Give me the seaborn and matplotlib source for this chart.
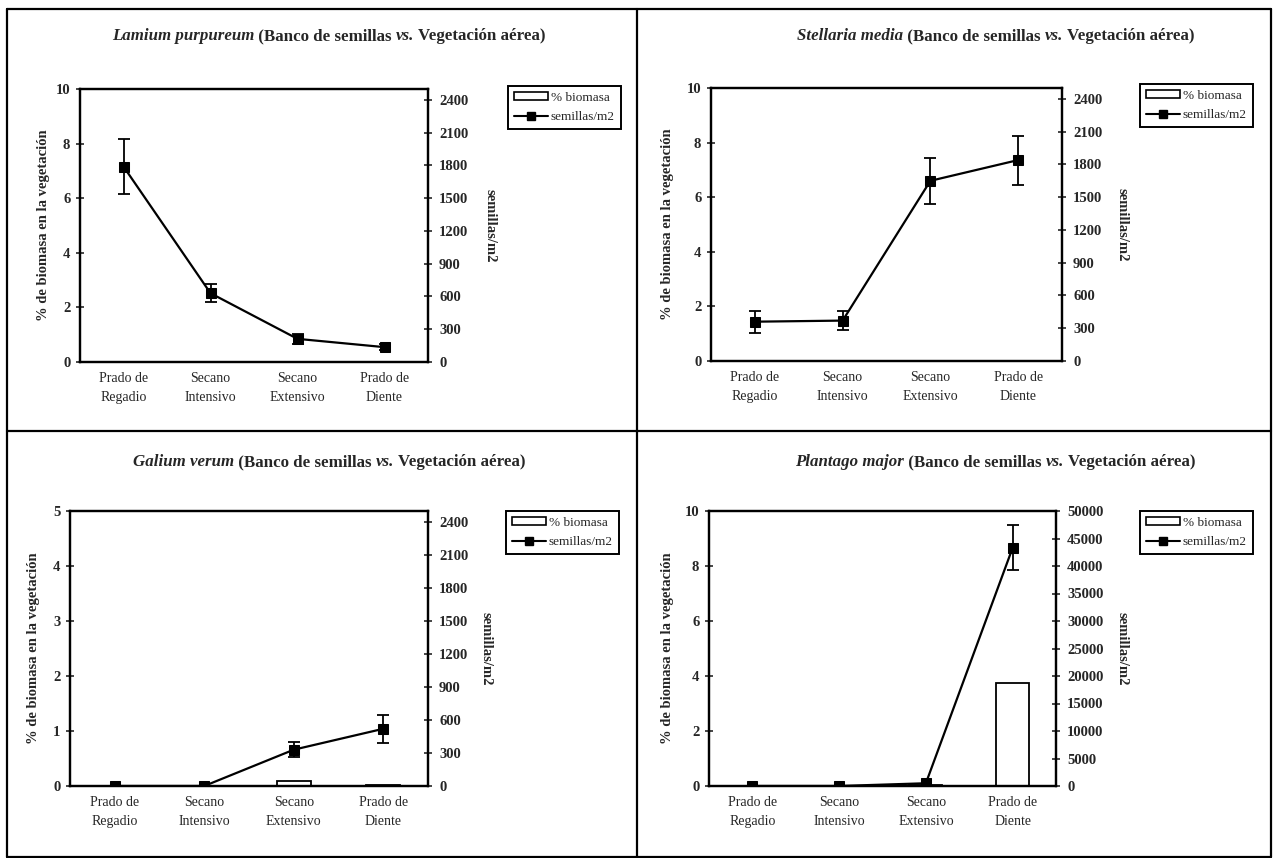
import numpy as np
import pandas as pd
import matplotlib.pyplot as plt
import seaborn as sns
from matplotlib.lines import Line2D
from matplotlib.patches import Patch

# categorias del eje x (4 tipos de manejo)
categorias = ['Prado de\nRegadio', 'Secano\nIntensivo', 'Secano\nExtensivo', 'Prado de\nDiente']

# Lamium purpureum
lamium_biomasa  = [0, 0, 0, 0]
lamium_semillas = [1790, 630, 212, 136]
lamium_error    = [250, 85, 45, 30]

# Stellaria media
stellaria_biomasa  = [0, 0, 0, 0]
stellaria_semillas = [360, 370, 1650, 1840]
stellaria_error    = [100, 85, 210, 225]

# Galium verum
galium_biomasa  = [0, 0, 0.1, 0.02]
galium_semillas = [0, 0, 330, 520]
galium_error    = [0, 0, 70, 130]

# Plantago major
plantago_biomasa  = [0, 0, 0.05, 3.75]
plantago_semillas = [0, 0, 500, 43300]
plantago_error    = [0, 0, 0, 4100]

W, H = 1274, 858
FONT = ['Liberation Serif', 'DejaVu Serif']

sns.set_style('white')
plt.rcParams['font.family'] = FONT

fig = plt.figure(figsize=(W / 100, H / 100), dpi=100)


def px_rect(l, t, r, b):
    return [l / W, 1 - b / H, (r - l) / W, (b - t) / H]


def put_title(ax, x, y, species):
    pieces = [(' (Banco de semillas ', 'normal'), ('vs.', 'italic'),
              (' Vegetación aérea)', 'normal')]
    t = fig.text(x / W, 1 - y / H, species, style='italic', weight='bold',
                 fontsize=12.2, va='bottom', ha='left')
    for text, st in pieces:
        t = ax.annotate(text, xy=(1, 0), xycoords=t, va='bottom', ha='left',
                        style=st, weight='bold', fontsize=12.2, annotation_clip=False)


def draw_panel(box, species, biomasa, semillas, error, left_max, left_step,
               right_max, right_step, right_ticks_top, leg_xy, title_xy,
               ylab_x, y2lab_x):
    ax = fig.add_axes(px_rect(*box))
    df = pd.DataFrame({'cat': categorias, 'pos': np.arange(len(categorias)),
                       'bio': biomasa, 'sem': semillas, 'err': error})

    sns.barplot(data=df, x='cat', y='bio', ax=ax, color='white', edgecolor='black',
                linewidth=1.3, width=0.38, errorbar=None, saturation=1)
    ax.set_xlim(-0.5, 3.5)
    ax.set_ylim(0, left_max)
    lt = np.arange(0, left_max + 0.01, left_step)
    ax.set_yticks(lt)
    ax.set_yticklabels([f'{v:g}' for v in lt], fontsize=10.5, fontweight='bold')
    ax.set_xticks(df['pos'])
    ax.set_xticklabels(categorias, fontsize=10, linespacing=1.65)
    ax.set_xticks(np.arange(-0.5, 3.6, 1), minor=True)
    ax.tick_params(axis='x', which='major', length=0, pad=7)
    ax.tick_params(axis='x', which='minor', direction='inout', length=7, width=1.2)
    ax.tick_params(axis='y', direction='inout', length=6, width=1.2, pad=4, left=True)
    ax.set_xlabel('')
    ax.set_ylabel('% de biomasa en la vegetación', fontsize=10.5, fontweight='bold',
                  rotation=90, ha='center', va='center', rotation_mode='default')
    ax.yaxis.set_label_coords(ylab_x, 0.5)

    ax2 = ax.twinx()
    sns.lineplot(data=df, x='pos', y='sem', ax=ax2, color='black', linewidth=1.6,
                 marker='s', markersize=7, markeredgecolor='black', legend=False)
    with_err = df[df['err'] > 0]
    ax2.errorbar(with_err['pos'], with_err['sem'], yerr=with_err['err'], fmt='none',
                 ecolor='black', elinewidth=1.3, capsize=4, capthick=1.3)
    ax2.set_xlim(-0.5, 3.5)
    ax2.set_ylim(0, right_max)
    rt = np.arange(0, right_ticks_top + 1, right_step)
    ax2.set_yticks(rt)
    ax2.set_yticklabels([f'{int(v)}' for v in rt], fontsize=10.5, fontweight='bold')
    ax2.tick_params(axis='y', direction='inout', length=6, width=1.2, pad=5, right=True)
    ax2.set_xlabel('')
    ax2.set_ylabel('semillas/m2', fontsize=10.5, fontweight='bold', rotation=270,
                   ha='center', va='center', rotation_mode='default')
    ax2.yaxis.set_label_coords(y2lab_x, 0.5)

    for a in (ax, ax2):
        for s in a.spines.values():
            s.set_visible(True)
            s.set_color('black')
            s.set_linewidth(1.6)

    handles = [Patch(facecolor='white', edgecolor='black', linewidth=1.2),
               Line2D([], [], color='black', linewidth=1.5, marker='s', markersize=6)]
    fig.legend(handles, ['% biomasa', 'semillas/m2'], loc='upper left',
               bbox_to_anchor=(leg_xy[0] / W, 1 - leg_xy[1] / H),
               bbox_transform=fig.transFigure, frameon=True, fancybox=False,
               edgecolor='black', framealpha=1, fontsize=9.5, handlelength=2.6,
               handleheight=0.6, handletextpad=0.2, borderpad=0.45, labelspacing=0.55,
               borderaxespad=0)
    fig.legends[-1].get_frame().set_linewidth(1.4)

    put_title(ax, title_xy[0], title_xy[1], species)
    return ax


draw_panel((80, 89, 428, 362), 'Lamium purpureum', lamium_biomasa, lamium_semillas,
           lamium_error, 10, 2, 2500, 300, 2400, (508, 86), (112, 44), -0.105, 1.178)
draw_panel((711, 88, 1062, 361), 'Stellaria media', stellaria_biomasa,
           stellaria_semillas, stellaria_error, 10, 2, 2500, 300, 2400, (1140, 84),
           (797, 44), -0.125, 1.171)
draw_panel((70, 511, 428, 786), 'Galium verum', galium_biomasa, galium_semillas,
           galium_error, 5, 1, 2500, 300, 2400, (506, 511), (133, 470), -0.103, 1.162)
draw_panel((709, 511, 1056, 786), 'Plantago major', plantago_biomasa,
           plantago_semillas, plantago_error, 10, 2, 50000, 5000, 50000, (1140, 511),
           (795, 470), -0.121, 1.19)

# marcos de los cuatro paneles
frame = dict(color='black', linewidth=1.6, transform=fig.transFigure)
for xs, ys in [((7, 1271), (9, 9)), ((7, 1271), (857, 857)), ((7, 1271), (431, 431)),
               ((7, 7), (9, 857)), ((1271, 1271), (9, 857)), ((637, 637), (9, 857))]:
    fig.add_artist(Line2D([x / W for x in xs], [1 - y / H for y in ys], **frame))

plt.savefig('out.png', dpi=100)
plt.close()
